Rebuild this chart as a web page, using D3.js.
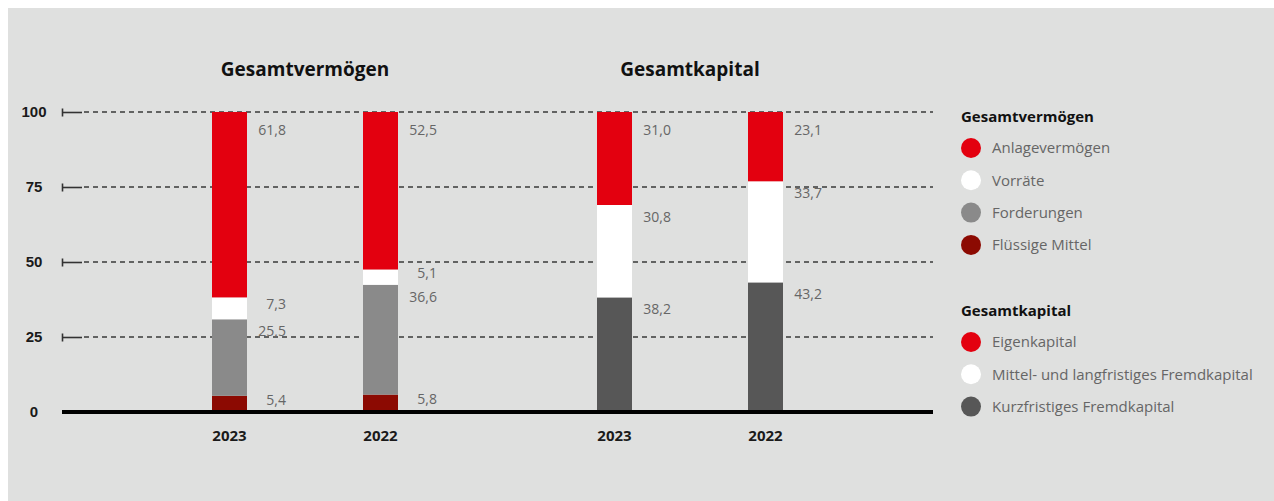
<!DOCTYPE html>
<html>
<head>
<meta charset="utf-8">
<script src="https://cdn.jsdelivr.net/npm/d3@7"></script>
<style>
  body { margin: 0; background: #fff; }
  svg { display: block; font-family: "Open Sans", "Noto Sans", sans-serif; }
</style>
</head>
<body>
<div class="canvas"></div>
<script>
// Data (Anteile in %)
const years = ['2023', '2022'];
const groups = ['Gesamtvermögen', 'Gesamtkapital'];

// Gesamtvermögen, bottom to top
const vermoegenKeys = ['Flüssige Mittel', 'Forderungen', 'Vorräte', 'Anlagevermögen'];
const vermoegen2023 = [5.4, 25.5, 7.3, 61.8];
const vermoegen2022 = [5.8, 36.6, 5.1, 52.5];

// Gesamtkapital, bottom to top
const kapitalKeys = ['Kurzfristiges Fremdkapital', 'Mittel- und langfristiges Fremdkapital', 'Eigenkapital'];
const kapital2023 = [38.2, 30.8, 31.0];
const kapital2022 = [43.2, 33.7, 23.1];

const yTicks = [0, 25, 50, 75, 100];

const colors = {
  'Anlagevermögen': '#e3000f',
  'Vorräte': '#ffffff',
  'Forderungen': '#8a8a8a',
  'Flüssige Mittel': '#8c0a02',
  'Eigenkapital': '#e3000f',
  'Mittel- und langfristiges Fremdkapital': '#ffffff',
  'Kurzfristiges Fremdkapital': '#575757'
};

const dims = { width: 1274, height: 501, barWidth: 35 };

const svg = d3.select('.canvas')
  .append('svg')
  .attr('width', dims.width)
  .attr('height', dims.height);

// grey panel
svg.append('rect')
  .attr('x', 8).attr('y', 8)
  .attr('width', dims.width - 8).attr('height', dims.height - 8)
  .attr('fill', '#dfe0df');

const y = d3.scaleLinear().domain([0, 100]).range([412, 112]);

// group centres, then year offset inside each group
const xGroup = d3.scalePoint().domain(groups).range([305, 690]);
const xYear = d3.scalePoint().domain(years).range([-75.5, 75.5]);

const left = 62, right = 933;

// grid + ticks
const grid = svg.append('g');
yTicks.filter(t => t > 0).forEach(t => {
  grid.append('line')
    .attr('x1', 84).attr('x2', right)
    .attr('y1', y(t)).attr('y2', y(t))
    .attr('stroke', '#3a3a3a').attr('stroke-width', 1.3)
    .attr('stroke-dasharray', '5,4');
});

const yAxis = d3.axisLeft(y).tickValues(yTicks).tickSize(0).tickPadding(0);
const axisG = svg.append('g').attr('transform', `translate(${left},0)`).call(yAxis);
axisG.select('.domain').remove();
axisG.selectAll('.tick text')
  .attr('x', 34 - left)
  .attr('text-anchor', 'middle')
  .attr('font-size', 15)
  .attr('font-weight', 700)
  .attr('fill', '#1a1a1a');
axisG.selectAll('.tick').filter(d => d > 0)
  .each(function() {
    const g = d3.select(this);
    g.append('line').attr('x1', 0).attr('x2', 20).attr('stroke', '#333').attr('stroke-width', 1.6);
    g.append('line').attr('x1', 0.5).attr('x2', 0.5).attr('y1', -4).attr('y2', 4).attr('stroke', '#333').attr('stroke-width', 1.6);
  });

// bars
const chartData = [
  { group: groups[0], year: years[0], keys: vermoegenKeys, values: vermoegen2023 },
  { group: groups[0], year: years[1], keys: vermoegenKeys, values: vermoegen2022 },
  { group: groups[1], year: years[0], keys: kapitalKeys, values: kapital2023 },
  { group: groups[1], year: years[1], keys: kapitalKeys, values: kapital2022 }
];

const fmt = v => d3.format('.1f')(v).replace('.', ',');

chartData.forEach(bar => {
  const w = dims.barWidth;
  const x0 = xGroup(bar.group) + xYear(bar.year) - w / 2;
  let acc = 0;
  const segs = bar.values.map((v, i) => {
    const s = { key: bar.keys[i], v, y0: acc, y1: acc + v, last: i === bar.values.length - 1 };
    acc += v;
    return s;
  });
  const top = d => y(Math.min(d.y1, 100));
  const g = svg.append('g');
  g.selectAll('rect').data(segs).enter().append('rect')
    .attr('x', x0).attr('width', w)
    .attr('y', top)
    .attr('height', d => y(d.y0) - top(d))
    .attr('fill', d => colors[d.key]);
  g.selectAll('text').data(segs).enter().append('text')
    .attr('x', x0 + w + 39)
    .attr('y', d => d.v < 10 ? (y(d.y0) + y(d.y1)) / 2 - 4 : top(d) + (d.last ? 18 : 12))
    .attr('dy', '0.35em')
    .attr('text-anchor', 'end')
    .attr('font-size', 14)
    .attr('fill', '#666')
    .text(d => fmt(d.v));
  // year label
  svg.append('text')
    .attr('x', x0 + w / 2).attr('y', 441)
    .attr('text-anchor', 'middle')
    .attr('font-size', 15).attr('font-weight', 700)
    .attr('fill', '#1a1a1a')
    .text(bar.year);
});

// base line
svg.append('line')
  .attr('x1', left).attr('x2', right)
  .attr('y1', y(0)).attr('y2', y(0))
  .attr('stroke', '#000').attr('stroke-width', 4);

// group titles
groups.forEach(gr => {
  svg.append('text')
    .attr('x', xGroup(gr))
    .attr('y', 76)
    .attr('text-anchor', 'middle')
    .attr('font-size', 19).attr('font-weight', 700)
    .attr('fill', '#111')
    .text(gr);
});

// legend
const legendSections = [
  { title: groups[0], keys: vermoegenKeys.slice().reverse(), top: 117 },
  { title: groups[1], keys: kapitalKeys.slice().reverse(), top: 311 }
];
const legend = svg.append('g').attr('transform', 'translate(961,0)');
legendSections.forEach(sec => {
  legend.append('text')
    .attr('x', 0).attr('y', sec.top).attr('dy', '0.35em')
    .attr('font-size', 15).attr('font-weight', 700).attr('fill', '#111')
    .text(sec.title);
  sec.keys.forEach((k, i) => {
    const cy = sec.top + 31 + i * 32.3;
    legend.append('circle')
      .attr('cx', 10).attr('cy', cy).attr('r', 10)
      .attr('fill', colors[k]);
    legend.append('text')
      .attr('x', 31).attr('y', cy).attr('dy', '0.35em')
      .attr('font-size', 15).attr('fill', '#666')
      .text(k);
  });
});
</script>
</body>
</html>
